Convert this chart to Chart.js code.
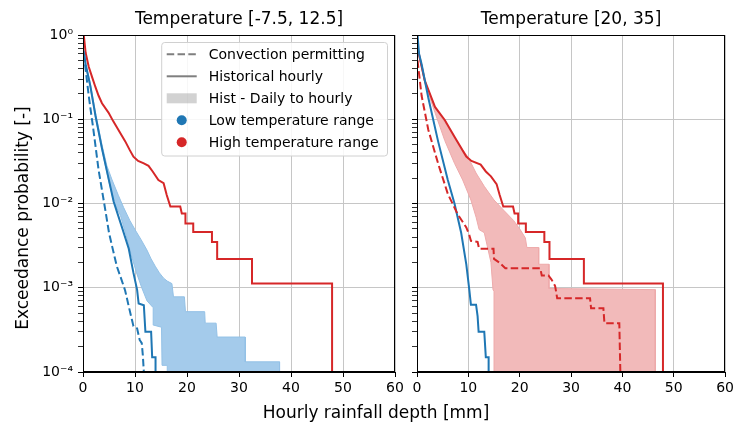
<!DOCTYPE html>
<html>
<head>
<meta charset="UTF-8" />
<title>Exceedance probability of hourly rainfall</title>
<script src="https://cdn.jsdelivr.net/npm/chart.js@4.4.9/dist/chart.umd.min.js"></script>
<style>
  body { margin:0; background:#fff; width:737px; height:423px; position:relative; overflow:hidden; font-family:'DejaVu Sans', sans-serif; }
  .panel { position:absolute; top:0; height:423px; }
  #leftBox { left:0; width:412px; }
  #rightBox { left:400px; width:337px; }
  .lbl { position:absolute; font-size:17px; line-height:20px; white-space:nowrap; text-align:center; color:#000; }
</style>
</head>
<body>
<div class="panel" id="leftBox"><canvas id="left"></canvas></div>
<div class="panel" id="rightBox"><canvas id="right"></canvas></div>
<div class="lbl" style="left:176px; top:402px; width:400px;">Hourly rainfall depth [mm]</div>
<div class="lbl" style="left:-178px; top:208px; width:400px; transform:rotate(-90deg);">Exceedance probability [-]</div>
<script>
// panel titles, legend and tick labels
const panelTitles = ['Temperature [-7.5, 12.5]', 'Temperature [20, 35]'];
const legendLabels = ['Convection permitting', 'Historical hourly', 'Hist - Daily to hourly', 'Low temperature range', 'High temperature range'];
const legendKinds = ['dash', 'line', 'patch', 'dot', 'dot'];
const yDecadeLabels = ['10⁻⁴', '10⁻³', '10⁻²', '10⁻¹', '10⁰'];

// [rainfall depth mm, exceedance probability]
// left panel: low temperature range
const leftHistLow = [[0.1,0.65],[0.5,0.45],[1.4,0.25],[2.4,0.11],[3.65,0.045],[4.9,0.02],[5.9,0.0105],[7.5,0.0052],[8.8,0.0029],[9.7,0.0015],[10.4,0.00095],[10.7,0.00065],[11.7,0.00062],[12.0,0.0003],[13.1,0.0003],[13.3,0.00015],[13.95,0.00015],[13.95,0.0001]];
const leftHistHigh = [[0.15,1.0],[0.5,0.62],[1.1,0.42],[1.8,0.31],[2.4,0.24],[3.0,0.19],[3.65,0.155],[4.9,0.12],[5.8,0.095],[6.85,0.074],[8.1,0.055],[9.0,0.043],[9.7,0.036],[10.6,0.032],[11.7,0.030],[12.6,0.028],[13.4,0.024],[14.5,0.019],[15.5,0.0174],[16.1,0.0126],[16.8,0.0092],[18.7,0.0092],[19.0,0.0076],[19.7,0.0076],[19.7,0.0058],[21.2,0.0058],[21.2,0.0046],[24.8,0.0046],[24.8,0.0035],[25.8,0.0035],[25.8,0.0022],[32.5,0.0022],[32.5,0.00112],[47.9,0.00112],[47.9,0.0001]];
const leftConvLow = [[0.2,0.6],[0.3,0.5],[1.1,0.19],[2.0,0.075],[3.0,0.025],[4.3,0.0083],[5.0,0.0045],[5.6,0.0031],[6.5,0.0018],[7.3,0.0013],[8.1,0.00093],[8.8,0.0006],[9.4,0.00042],[9.7,0.00035],[10.4,0.00033],[10.9,0.00024],[11.3,0.00022],[11.5,0.00016],[11.7,0.0001]];
const leftBandUpper = [[0.1,0.68],[0.5,0.47],[1.4,0.27],[2.4,0.12],[3.65,0.05],[4.6,0.028],[5.6,0.019],[6.8,0.0125],[7.8,0.009],[9.0,0.0063],[10.0,0.0049],[11.2,0.0037],[12.3,0.0028],[13.1,0.0022],[13.9,0.0018],[14.7,0.0015],[15.5,0.0013],[16.2,0.0012],[17.1,0.00112],[17.4,0.00078],[19.5,0.00078],[19.7,0.00052],[23.4,0.00052],[23.5,0.00038],[25.6,0.00038],[25.8,0.00026],[31.2,0.00026],[31.2,0.000132],[37.8,0.000132],[37.8,0.0001]];
const leftBandLower = [[0.1,0.63],[0.5,0.43],[1.4,0.24],[2.4,0.105],[3.65,0.043],[4.9,0.019],[5.9,0.0105],[7.2,0.0072],[8.3,0.0042],[9.4,0.0023],[10.3,0.0015],[11.3,0.001],[12.3,0.0007],[13.5,0.00058],[13.6,0.00036],[15.1,0.00034],[15.2,0.00012],[16.2,0.00012],[16.2,0.0001]];

// right panel: high temperature range
const rightHistLow = [[0.1,1.0],[0.4,0.6],[0.9,0.45],[2.2,0.18],[4.1,0.055],[6.0,0.019],[7.3,0.01],[8.6,0.0045],[9.6,0.0019],[10.2,0.00093],[10.5,0.00063],[11.5,0.00063],[11.8,0.00046],[12.0,0.0003],[13.1,0.0003],[13.4,0.00015],[13.95,0.00015],[13.95,0.0001]];
const rightHistHigh = [[0.1,0.7],[0.3,0.62],[1.5,0.29],[3.5,0.14],[5.4,0.098],[7.3,0.062],[9.6,0.036],[10.6,0.032],[12.4,0.029],[13.4,0.024],[14.4,0.021],[15.5,0.017],[16.1,0.0126],[16.8,0.0092],[18.7,0.0092],[19.0,0.0076],[19.7,0.0076],[19.7,0.0058],[21.2,0.0058],[21.2,0.0046],[24.8,0.0046],[24.8,0.0035],[25.8,0.0035],[25.8,0.0022],[32.5,0.0022],[32.5,0.00112],[47.9,0.00112],[47.9,0.0001]];
const rightConvHigh = [[0.1,0.5],[0.9,0.19],[2.2,0.075],[4.1,0.03],[6.0,0.013],[7.9,0.0075],[9.6,0.0052],[10.2,0.0042],[10.5,0.0036],[11.8,0.0035],[12.1,0.0029],[14.9,0.0029],[15.0,0.0022],[16.0,0.002],[17.2,0.0017],[24.0,0.0017],[24.3,0.0014],[25.6,0.0014],[26.2,0.00125],[26.9,0.00105],[27.3,0.00075],[33.7,0.00075],[33.9,0.00057],[36.3,0.00057],[36.5,0.00038],[39.4,0.00038],[39.6,0.0001]];
const rightBandUpper = [[0.1,0.7],[1.5,0.29],[3.5,0.14],[3.8,0.13],[6.0,0.081],[7.9,0.052],[9.9,0.036],[11.5,0.023],[13.1,0.016],[15.0,0.011],[16.9,0.0083],[18.8,0.0063],[20.1,0.0049],[21.1,0.0039],[21.4,0.003],[23.7,0.003],[23.7,0.0019],[25.7,0.0019],[25.7,0.00098],[46.4,0.00095],[46.4,0.0001]];
const rightBandLower = [[0.1,0.68],[1.5,0.27],[3.5,0.12],[5.4,0.056],[7.3,0.030],[8.9,0.019],[10.5,0.011],[11.5,0.0069],[12.1,0.0049],[13.1,0.0045],[14.4,0.002],[14.8,0.00095],[15.0,0.0009],[15.0,0.0001]];

const BLUE = '#1f77b4', RED = '#d62728', GRID = '#c6c6c6';
const legendColors = ['#7f7f7f', '#7f7f7f', 'rgba(127,127,127,0.35)', BLUE, RED];

Chart.defaults.font.family = "'DejaVu Sans', sans-serif";
Chart.defaults.color = '#000';

function pts(a) { return a.map(p => ({x: p[0], y: p[1]})); }

function line(data, color, dashed) {
    return { data: pts(data), borderColor: color, borderWidth: 2, borderDash: dashed ? [7.5, 3.3] : [],
             pointRadius: 0, fill: false, tension: 0, order: 1 };
}

// band = upper edge forward, lower edge back, filled as one shape
function area(upper, lower, fillColor, edgeColor) {
    return { data: pts(upper.concat(lower.slice().reverse())), backgroundColor: fillColor, borderColor: edgeColor,
             borderWidth: 1, pointRadius: 0, fill: 'shape', tension: 0, order: 5 };
}

function isDecade(v) {
    const e = Math.log10(v);
    return Math.abs(e - Math.round(e)) < 1e-6;
}

// box around the plot area (top + right spines)
const framePlugin = {
    id: 'frame',
    afterDraw(chart) {
        const {ctx, chartArea: a} = chart;
        ctx.save();
        ctx.strokeStyle = '#000';
        ctx.lineWidth = 1;
        ctx.strokeRect(Math.round(a.left) + 0.5, Math.round(a.top) + 0.5, Math.round(a.right - a.left) - 1, Math.round(a.bottom - a.top) - 1);
        ctx.restore();
    }
};

const legendPlugin = {
    id: 'panelLegend',
    afterDatasetsDraw(chart) {
        const {ctx, chartArea} = chart;
        ctx.save();
        ctx.font = "14px 'DejaVu Sans'";
        const textW = Math.max(...legendLabels.map(t => ctx.measureText(t).width));
        const pad = 5, handle = 30, gap = 12, rowH = 22;
        const right = chartArea.right - 7.5;
        const top = chartArea.top + 7.5;
        const w = pad + handle + gap + textW + 9;
        const h = rowH * legendLabels.length + 3.5;
        const left = right - w;

        ctx.beginPath();
        ctx.roundRect(left, top, w, h, 3);
        ctx.fillStyle = 'rgba(255,255,255,0.85)';
        ctx.fill();
        ctx.strokeStyle = '#d0d0d0';
        ctx.lineWidth = 1;
        ctx.stroke();

        legendLabels.forEach((label, i) => {
            const cy = top + 11.8 + i * rowH;
            const hx = left + pad;
            const kind = legendKinds[i];
            if (kind === 'dash' || kind === 'line') {
                ctx.beginPath();
                ctx.setLineDash(kind === 'dash' ? [7.5, 3.3] : []);
                ctx.strokeStyle = legendColors[i];
                ctx.lineWidth = 2;
                ctx.moveTo(hx, cy);
                ctx.lineTo(hx + handle, cy);
                ctx.stroke();
                ctx.setLineDash([]);
            } else if (kind === 'patch') {
                ctx.fillStyle = legendColors[i];
                ctx.fillRect(hx, cy - 5, handle, 10);
            } else {
                ctx.beginPath();
                ctx.fillStyle = legendColors[i];
                ctx.arc(hx + handle / 2, cy, 5, 0, Math.PI * 2);
                ctx.fill();
            }
            ctx.fillStyle = '#000';
            ctx.textBaseline = 'middle';
            ctx.textAlign = 'left';
            ctx.fillText(label, hx + handle + gap, cy + 1);
        });
        ctx.restore();
    }
};

function makePanel(id, title, datasets, showYLabels, yWidth, padRight, extraPlugins) {
    return new Chart(document.getElementById(id), {
        type: 'line',
        data: { datasets: datasets },
        options: {
            responsive: true,
            maintainAspectRatio: false,
            animation: false,
            layout: { padding: { left: 0, right: padRight, top: 0, bottom: 0 } },
            plugins: {
                legend: { display: false },
                tooltip: { enabled: false },
                title: { display: true, text: title, fullSize: false, color: '#000',
                         font: { size: 17, weight: 'normal' }, padding: { top: 9, bottom: 5.6 } }
            },
            scales: {
                x: {
                    type: 'linear', min: 0, max: 60,
                    ticks: { stepSize: 10, maxRotation: 0, padding: 3, color: '#000', font: { size: 14 } },
                    grid: { color: GRID, lineWidth: 1, tickColor: '#000', tickLength: 5 },
                    border: { color: '#000', width: 1 },
                    afterFit: s => { s.height = 51; }
                },
                y: {
                    type: 'logarithmic', min: 1e-4, max: 1,
                    afterBuildTicks: s => {
                        // keep 1..9 x 10^k only
                        s.ticks = s.ticks.filter(t => {
                            const m = t.value / Math.pow(10, Math.floor(Math.log10(t.value) + 1e-9));
                            return Math.abs(m - Math.round(m)) < 1e-6;
                        });
                    },
                    ticks: {
                        autoSkip: false, padding: 5, color: '#000', font: { size: 14 },
                        callback: v => (showYLabels && isDecade(v)) ? yDecadeLabels[Math.round(Math.log10(v)) + 4] : ''
                    },
                    grid: {
                        color: c => (c.tick && !isDecade(c.tick.value)) ? 'rgba(0,0,0,0)' : GRID,
                        tickColor: '#000', tickLength: 5,
                        tickWidth: c => (c.tick && !isDecade(c.tick.value)) ? 0.8 : 1
                    },
                    border: { color: '#000', width: 1 },
                    afterFit: s => { s.width = yWidth; }
                }
            }
        },
        plugins: [framePlugin].concat(extraPlugins)
    });
}

makePanel('left', panelTitles[0], [
    line(leftConvLow, BLUE, true),
    line(leftHistLow, BLUE, false),
    line(leftHistHigh, RED, false),
    area(leftBandUpper, leftBandLower, '#a4cbeb', '#93c1e6')
], true, 83, 17, [legendPlugin]);

makePanel('right', panelTitles[1], [
    line(rightConvHigh, RED, true),
    line(rightHistLow, BLUE, false),
    line(rightHistHigh, RED, false),
    area(rightBandUpper, rightBandLower, '#f2baba', '#eeaaab')
], false, 17, 9, []);
</script>
</body>
</html>
